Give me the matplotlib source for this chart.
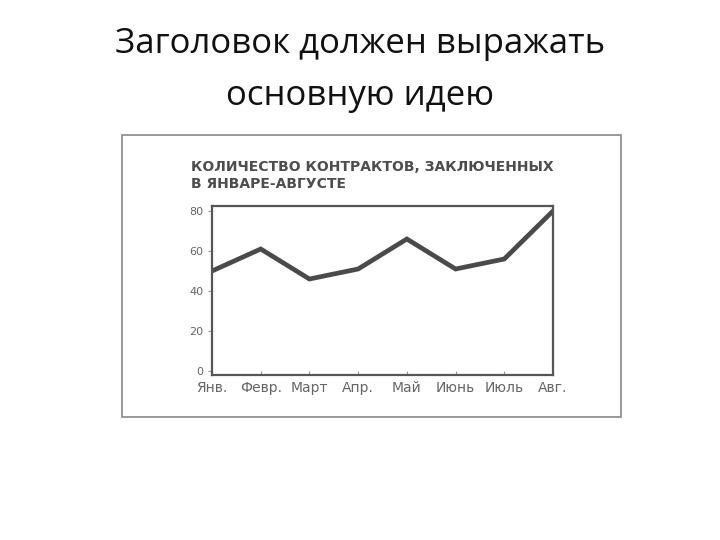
import matplotlib
matplotlib.use("Agg")
import matplotlib.pyplot as plt
from matplotlib.patches import Rectangle

months = ["Янв.", "Февр.", "Март", "Апр.", "Май", "Июнь", "Июль", "Авг."]
contracts = [50, 61, 46, 51, 66, 51, 56, 80]
yticks = [0, 20, 40, 60, 80]

fig = plt.figure(figsize=(7.2, 5.4), dpi=100)
fig.patch.set_facecolor("white")

fig.text(0.5, 0.918, "Заголовок должен выражать", ha="center", va="center",
         fontsize=25, family="Open Sans", color="#111111")
fig.text(0.5, 0.822, "основную идею", ha="center", va="center",
         fontsize=25, family="Open Sans", color="#111111")

fig.patches.append(Rectangle((122/720, 1-417/540), 499/720, 282/540,
                             transform=fig.transFigure, fill=False,
                             edgecolor="#888888", linewidth=1.2))

fig.text(191/720, 1-167/540, "КОЛИЧЕСТВО КОНТРАКТОВ, ЗАКЛЮЧЕННЫХ", ha="left", va="center",
         fontsize=10.0, fontweight="bold", family="DejaVu Sans", color="#4d4d4d")
fig.text(191/720, 1-184/540, "В ЯНВАРЕ-АВГУСТЕ", ha="left", va="center",
         fontsize=10.0, fontweight="bold", family="DejaVu Sans", color="#4d4d4d")

ax = fig.add_axes([212/720, 1-375/540, 341/720, 169/540])
x = list(range(len(months)))
ax.plot(x, contracts, color="#4a4a4a", linewidth=3.4, solid_joinstyle="miter")
ax.set_xlim(0, 7)
ax.set_ylim(-2, 82.5)
ax.set_yticks(yticks)
ax.set_yticklabels([str(v) for v in yticks], fontsize=8, color="#666666", family="DejaVu Sans")
ax.set_xticks(x)
ax.set_xticklabels(months, fontsize=10, color="#666666", family="DejaVu Sans")
ax.tick_params(axis="x", direction="in", length=3, color="#999999", pad=4)
ax.tick_params(axis="y", direction="out", length=3, color="#999999", pad=3)
for s in ax.spines.values():
    s.set_color("#555555")
    s.set_linewidth(1.6)

fig.savefig("out.png", dpi=100, facecolor="white")
